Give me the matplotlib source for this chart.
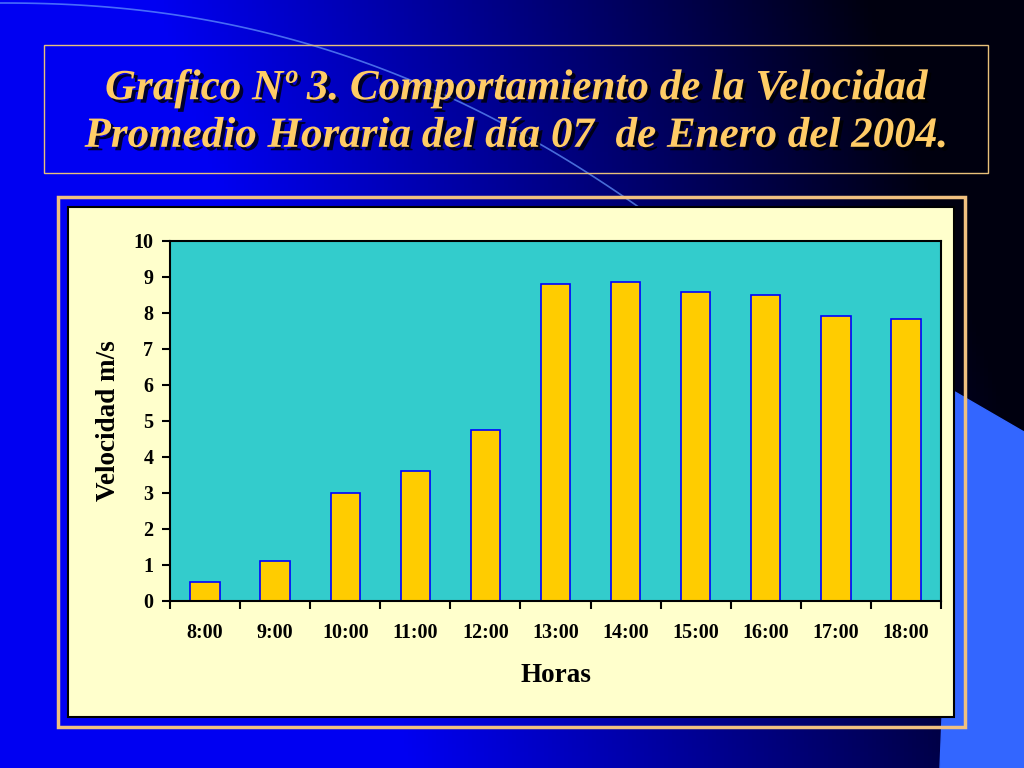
import matplotlib.pyplot as plt
import matplotlib.patches as patches
import matplotlib.patheffects as pe
import numpy as np

# datos del grafico
horas = ["8:00", "9:00", "10:00", "11:00", "12:00", "13:00",
         "14:00", "15:00", "16:00", "17:00", "18:00"]
velocidad = [0.52, 1.10, 3.01, 3.60, 4.75, 8.80, 8.85, 8.58, 8.49, 7.91, 7.82]

titulo = u"Grafico Nº 3. Comportamiento de la Velocidad\nPromedio Horaria del día 07  de Enero del 2004."

W, H = 1024, 768
fig = plt.figure(figsize=(W / 100, H / 100), dpi=100)

# fondo degradado azul
bg = fig.add_axes([0, 0, 1, 1])
bg.set_xlim(0, W)
bg.set_ylim(H, 0)
bg.axis("off")
gx = np.linspace(0, 1, 256)
gy = np.linspace(0, 1, 192)
GX, GY = np.meshgrid(gx, gy)
t = np.clip((GX - 0.4 + 0.25 * (1 - GY)) / 0.7, 0, 1)
img = np.zeros((192, 256, 3))
img[..., 2] = 0.95 * (1 - t) + 0.06 * t
bg.imshow(img, extent=[0, W, H, 0], aspect="auto", zorder=0)

# decoraciones
bg.add_patch(patches.Polygon([(955, 392), (1024, 432), (1024, 768), (940, 768)],
                             closed=True, color="#3366FF", zorder=1))
cx = np.linspace(0, 660, 100)
cy = 3 + 205 * (cx / 640) ** 2.2
bg.plot(cx, cy, color="#6699FF", lw=1.2, alpha=0.7, zorder=1)

# recuadro del titulo
bg.add_patch(patches.Rectangle((44, 45), 944, 128, fill=False,
                               edgecolor="#E8C07A", lw=1, zorder=2))
bg.text(516, 113, titulo, ha="center", va="center",
        fontsize=31, fontfamily="Liberation Serif", fontweight="bold",
        fontstyle="italic", color="#FFCC66", linespacing=1.33, zorder=3,
        path_effects=[pe.withSimplePatchShadow(offset=(2.5, -2.5),
                                               shadow_rgbFace="black", alpha=0.8)])

# marco del grafico
bg.add_patch(patches.Rectangle((58, 197), 907, 530, fill=False,
                               edgecolor="#F0C080", lw=2.5, zorder=2))
bg.add_patch(patches.Rectangle((68, 207), 886, 510, facecolor="#FFFFCC",
                               edgecolor="black", lw=1.5, zorder=2))

# grafico de barras
ax = fig.add_axes([170 / W, (H - 601) / H, (941 - 170) / W, 360 / H])
ax.set_facecolor("#33CCCC")
x = np.arange(len(horas))
ax.bar(x, velocidad, width=0.42, color="#FFCC00", edgecolor="#0000FF", lw=1.2, zorder=2)
ax.set_xlim(-0.5, len(horas) - 0.5)
ax.set_ylim(0, 10)
ax.set_yticks(range(0, 11))
ax.set_xticks(x)
ax.set_xticklabels(horas)
ax.set_xticks(np.arange(-0.5, len(horas), 1), minor=True)
ax.tick_params(axis="x", which="major", length=0, pad=16)
ax.tick_params(axis="x", which="minor", length=6, width=1.5, direction="out")
ax.tick_params(axis="y", length=6, width=1.5, direction="out", pad=6)
for lab in ax.get_xticklabels() + ax.get_yticklabels():
    lab.set_fontfamily("Liberation Serif")
    lab.set_fontweight("bold")
    lab.set_fontsize(14.5)
for s in ax.spines.values():
    s.set_linewidth(1.5)
    s.set_color("black")
ax.set_xlabel("Horas", fontfamily="Liberation Serif", fontweight="bold",
              fontsize=19.5, labelpad=14)
ax.set_ylabel("Velocidad m/s", fontfamily="Liberation Serif", fontweight="bold",
              fontsize=19.5, labelpad=9)

fig.savefig("out.png", dpi=100)
